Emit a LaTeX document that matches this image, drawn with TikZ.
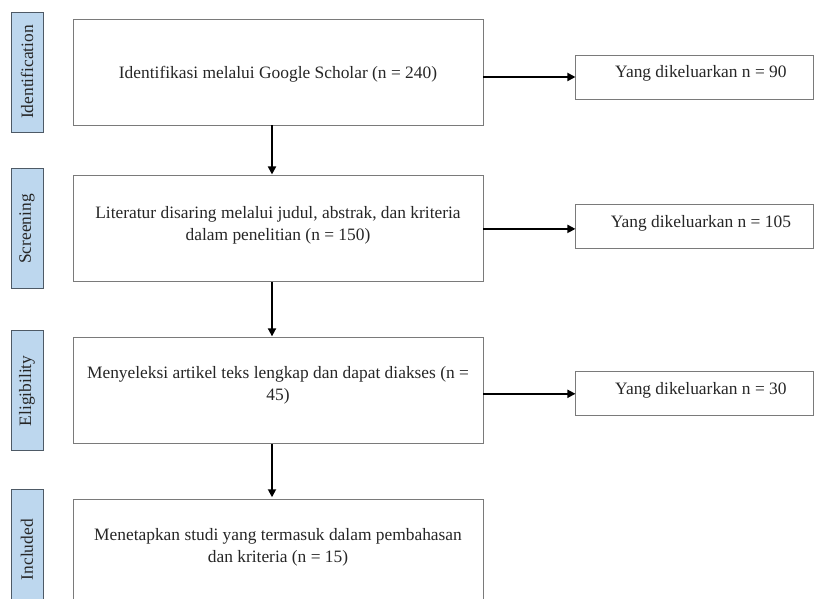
\documentclass[tikz,border=0pt]{standalone}
\usepackage{fontspec}
\setmainfont{Liberation Serif}
\usepackage{xcolor}
\usetikzlibrary{arrows.meta, positioning}

\definecolor{boxgray}{HTML}{7A7A7A}
\definecolor{stageblue}{HTML}{BDD7EE}
\definecolor{stagegray}{HTML}{4E5A66}
\definecolor{textgray}{HTML}{262626}

\begin{document}
\begin{tikzpicture}[
    x=1pt, y=-1pt,
    font=\fontsize{17.4}{22}\selectfont,
    mainbox/.style={rectangle, draw=boxgray, line width=0.9pt, minimum width=410pt, minimum height=106pt, inner sep=0pt},
    sidebox/.style={rectangle, draw=boxgray, line width=0.9pt, minimum width=238pt, minimum height=44pt, inner sep=0pt},
    stage/.style={rectangle, draw=stagegray, fill=stageblue, line width=0.9pt, rotate=90, minimum width=120pt, minimum height=32pt, inner sep=0pt, text=textgray},
    boxtext/.style={align=center, text=textgray, inner sep=0pt},
    arrow/.style={-{Triangle[length=8pt, width=8pt]}, line width=1.8pt}
]
    \useasboundingbox (0,0) rectangle (814,599);
    \clip (0,0) rectangle (814,599);

    % Main flow
    \node[mainbox, label={[boxtext, yshift=-2pt]center:Identifikasi melalui Google Scholar (n = 240)}] (ident) at (278,72) {};
    \node[mainbox, below=50pt of ident, label={[boxtext, yshift=4pt]center:{Literatur disaring melalui judul, abstrak, dan kriteria\\dalam penelitian (n = 150)}}] (screen) {};
    \node[mainbox, below=55pt of screen, label={[boxtext, yshift=5pt]center:{Menyeleksi artikel teks lengkap dan dapat diakses (n =\\45)}}] (elig) {};
    \node[mainbox, below=55pt of elig, label={[boxtext, yshift=5.5pt]center:{Menetapkan studi yang termasuk dalam pembahasan\\dan kriteria (n = 15)}}] (incl) {};

    % Excluded records
    \node[sidebox, right=92pt of ident, yshift=-5pt, label={[boxtext, xshift=6pt, yshift=3.5pt]center:Yang dikeluarkan n = 90}] (out1) {};
    \node[sidebox, right=92pt of screen, yshift=2.5pt, label={[boxtext, xshift=6pt, yshift=3.5pt]center:Yang dikeluarkan n = 105}] (out2) {};
    \node[sidebox, right=92pt of elig, yshift=-3pt, label={[boxtext, xshift=6pt, yshift=3.5pt]center:Yang dikeluarkan n = 30}] (out3) {};

    % Stage labels
    \coordinate (lx) at (27,0);
    \node[stage] (lab1) at (ident.center -| lx) {Identification};
    \node[stage] (lab2) at (screen.center -| lx) {Screening};
    \node[stage] (lab3) at (elig.center -| lx) {Eligibility};
    \node[stage] (lab4) at ([yshift=3pt]incl.center -| lx) {Included};

    % Arrows
    \draw[arrow, shorten >=1pt] ([xshift=-6pt]ident.south) -- ([xshift=-6pt]screen.north);
    \draw[arrow, shorten >=1pt] ([xshift=-6pt]screen.south) -- ([xshift=-6pt]elig.north);
    \draw[arrow, shorten >=2pt] ([xshift=-6pt]elig.south) -- ([xshift=-6pt]incl.north);
    \draw[arrow] (ident.east |- out1.west) -- (out1.west);
    \draw[arrow] (screen.east) -- (screen.east -| out2.west);
    \draw[arrow] (elig.east |- out3.west) -- (out3.west);
\end{tikzpicture}
\end{document}
